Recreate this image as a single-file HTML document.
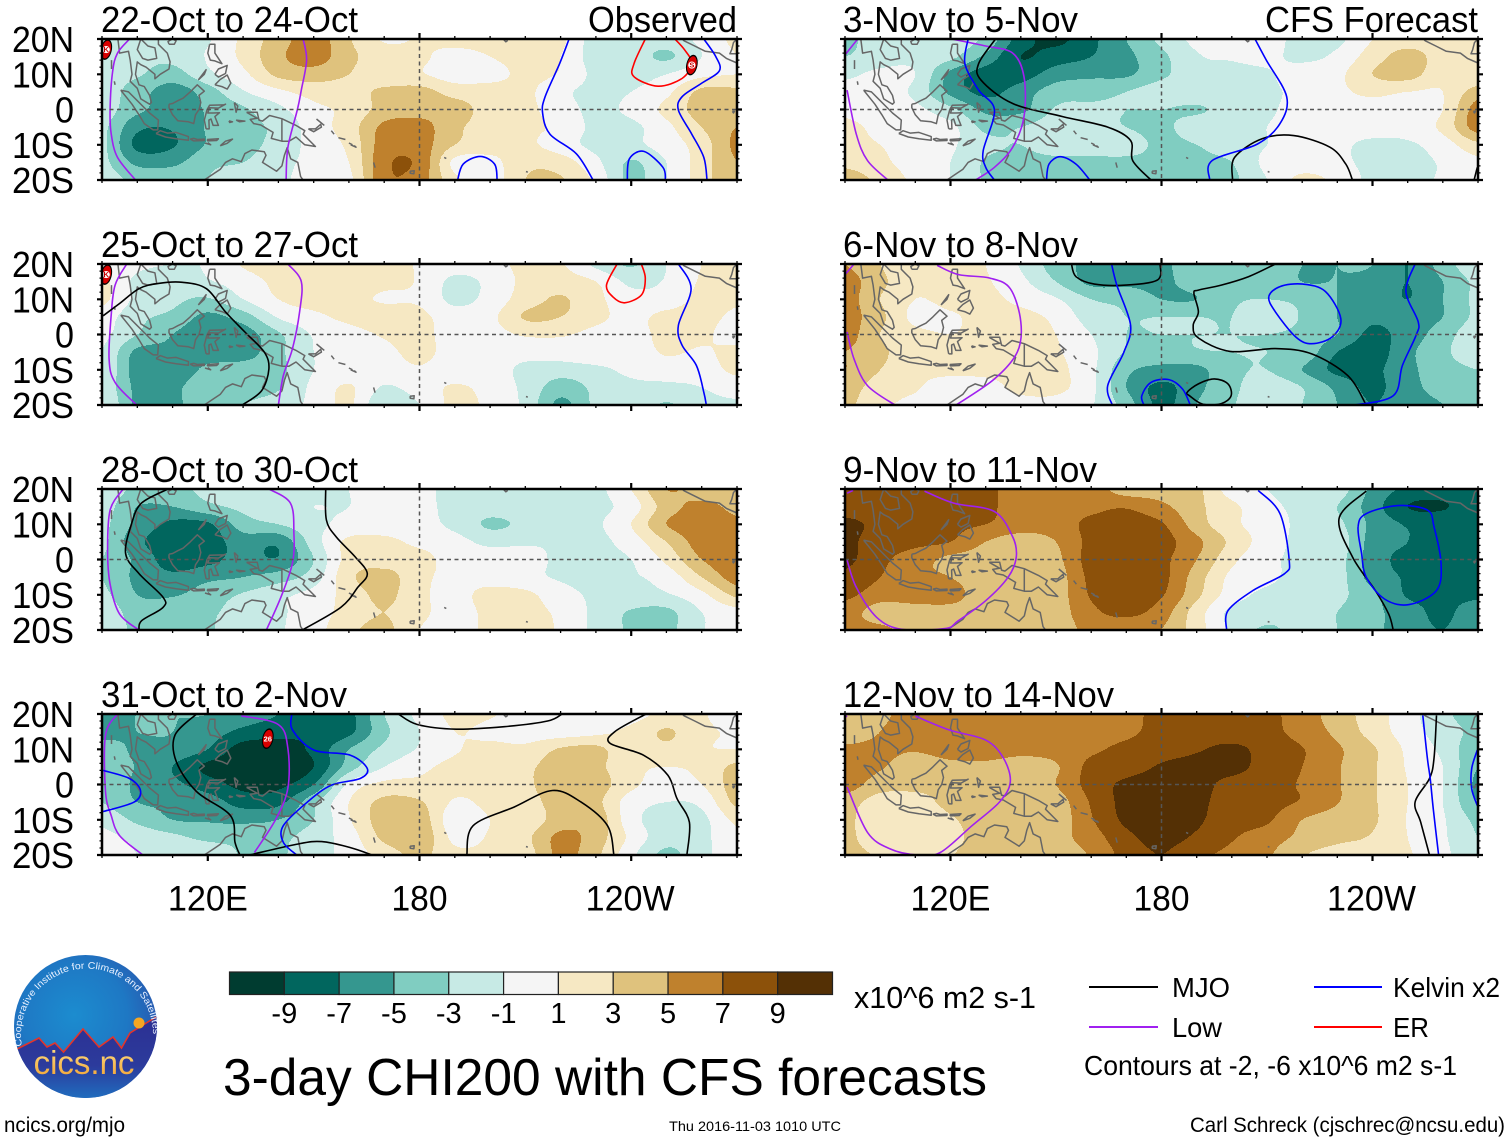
<!DOCTYPE html>
<html lang="en">
<head>
<meta charset="utf-8">
<title>3-day CHI200 with CFS forecasts</title>
<style>
html,body{margin:0;padding:0;background:#fff}
svg{display:block;font-family:"Liberation Sans",Arial,sans-serif}
</style>
</head>
<body>
<svg id="chart" xmlns="http://www.w3.org/2000/svg" width="1510" height="1142" viewBox="0 0 1510 1142">
  <defs>
    <radialGradient id="logoSky" cx="0.42" cy="0.42" r="0.62">
      <stop offset="0" stop-color="#1c8ccf"/>
      <stop offset="0.6" stop-color="#1e78c4"/>
      <stop offset="1" stop-color="#2a55ad"/>
    </radialGradient>
    <linearGradient id="logoLand" x1="0" y1="0" x2="0" y2="1">
      <stop offset="0" stop-color="#2c2f92"/>
      <stop offset="0.6" stop-color="#2c3b9c"/>
      <stop offset="1" stop-color="#1f6fc0"/>
    </linearGradient>
    <linearGradient id="logoText" x1="0" y1="0" x2="0" y2="1">
      <stop offset="0" stop-color="#ffe28a"/>
      <stop offset="1" stop-color="#f0a030"/>
    </linearGradient>
    <clipPath id="logoClip"><circle cx="85.5" cy="1026.5" r="71.5"/></clipPath>
    <path id="logoArc" d="M 22 1046 A 66 66 0 1 1 153 1034"/>
  </defs>

  <g id="panels"></g>

  <g font-size="36.5" fill="#000" lengthAdjust="spacingAndGlyphs">
    <text x="101" y="32" textLength="257" lengthAdjust="spacingAndGlyphs">22-Oct to 24-Oct</text>
    <text x="588" y="32" textLength="149" lengthAdjust="spacingAndGlyphs">Observed</text>
    <text x="101" y="257" textLength="257" lengthAdjust="spacingAndGlyphs">25-Oct to 27-Oct</text>
    <text x="101" y="482" textLength="257" lengthAdjust="spacingAndGlyphs">28-Oct to 30-Oct</text>
    <text x="101" y="707" textLength="246" lengthAdjust="spacingAndGlyphs">31-Oct to 2-Nov</text>
    <text x="843" y="32" textLength="235" lengthAdjust="spacingAndGlyphs">3-Nov to 5-Nov</text>
    <text x="1265" y="32" textLength="213" lengthAdjust="spacingAndGlyphs">CFS Forecast</text>
    <text x="843" y="257" textLength="235" lengthAdjust="spacingAndGlyphs">6-Nov to 8-Nov</text>
    <text x="843" y="482" textLength="254" lengthAdjust="spacingAndGlyphs">9-Nov to 11-Nov</text>
    <text x="843" y="707" textLength="271" lengthAdjust="spacingAndGlyphs">12-Nov to 14-Nov</text>
  </g>

  <g id="colorbar"></g>
  <text x="854" y="1008" font-size="30.5" textLength="182" lengthAdjust="spacingAndGlyphs">x10^6 m2 s-1</text>

  <text x="223" y="1095" font-size="52" textLength="764" lengthAdjust="spacingAndGlyphs">3-day CHI200 with CFS forecasts</text>

  <g font-size="28">
    <line x1="1089" y1="987" x2="1158" y2="987" stroke="#000" stroke-width="2"/>
    <text x="1172" y="997" textLength="58" lengthAdjust="spacingAndGlyphs">MJO</text>
    <line x1="1314" y1="987" x2="1382" y2="987" stroke="#0000ff" stroke-width="2"/>
    <text x="1393" y="997" textLength="107" lengthAdjust="spacingAndGlyphs">Kelvin x2</text>
    <line x1="1089" y1="1027" x2="1158" y2="1027" stroke="#a020f0" stroke-width="2"/>
    <text x="1172" y="1037" textLength="50" lengthAdjust="spacingAndGlyphs">Low</text>
    <line x1="1314" y1="1027" x2="1382" y2="1027" stroke="#ff0000" stroke-width="2"/>
    <text x="1393" y="1037" textLength="36" lengthAdjust="spacingAndGlyphs">ER</text>
    <text x="1084" y="1075" textLength="373" lengthAdjust="spacingAndGlyphs">Contours at -2, -6 x10^6 m2 s-1</text>
  </g>

  <g>
    <circle cx="85.5" cy="1026.5" r="71.5" fill="url(#logoSky)"/>
    <g clip-path="url(#logoClip)">
      <path d="M10 1052 L19 1048 L39 1038 L47 1047 L55 1043 L63.5 1052 L83 1029 L99 1047 L113 1037 L121.5 1048 L130 1033 L156 1017 L160 1015 L160 1100 L10 1100 Z" fill="url(#logoLand)"/>
      <path d="M10 1052 L19 1048 L39 1038 L47 1047 L55 1043 L63.5 1052 L83 1029 L99 1047 L113 1037 L121.5 1048 L130 1033 L156 1017" fill="none" stroke="#e2352b" stroke-width="1.6"/>
      <circle cx="139" cy="1023" r="5.5" fill="#f5a623"/>
    </g>
    <text font-size="9.5" fill="#e8f0ff"><textPath href="#logoArc" textLength="218" lengthAdjust="spacingAndGlyphs">Cooperative Institute for Climate and Satellites</textPath></text>
    <text x="84" y="1074" font-size="33" text-anchor="middle" fill="url(#logoText)">cics.nc</text>
  </g>

  <text x="4" y="1132" font-size="21" textLength="121" lengthAdjust="spacingAndGlyphs">ncics.org/mjo</text>
  <text x="669" y="1131" font-size="14" textLength="172" lengthAdjust="spacingAndGlyphs">Thu 2016-11-03 1010 UTC</text>
  <text x="1190" y="1132" font-size="21" textLength="315" lengthAdjust="spacingAndGlyphs">Carl Schreck (cjschrec@ncsu.edu)</text>
</svg>

<script>
// ---- axis data ----
const lons = [90,100,110,120,130,140,150,160,170,180,190,200,210,220,230,240,250,260,270];
const lats = [20,15,10,5,0,-5,-10,-15,-20];
const lonTicks = [120,180,240];
const lonTickLabels = ['120E','180','120W'];
const latTicks = [20,10,0,-10,-20];
const latTickLabels = ['20N','10N','0','10S','20S'];
const colorLevels = [-9,-7,-5,-3,-1,1,3,5,7,9];
const colorBands = ['#003c30','#01665e','#35978f','#80cdc1','#c7eae5','#f5f5f5','#f6e8c3','#dfc27d','#bf812d','#8c510a','#543005'];

// ---- CHI200 anomaly fields (rows = lats, columns = lons) ----
const chiOct22 = [
[-1.5,-2,-2,-1.2,1.5,4,6,3.2,.8,1.2,2,2.2,3,1.5,-2,-2,-2,-.5,1.5],
[-2,-2.5,-2.5,-.8,1.5,4.5,6,3.5,2,1.5,0,1,2,1,-2,-2,-3.3,-1,1],
[-2.3,-2.8,-3.8,-1.5,.5,3.5,4,3,1.5,1.2,0,.2,1.5,.8,-1.5,-1.8,-1,.5,1],
[-2,-4,-6,-4,-1.2,.5,1.8,2,3.5,3.8,2.2,2,1.5,-.5,-1.5,-1,.5,3.5,3.5],
[-2,-4.5,-5.8,-4.8,-3.3,-1.5,.5,1.5,3.8,4.2,4,2,1.5,0,-1.5,-.5,1.5,3.8,3.8],
[-2.5,-6.5,-6.8,-4.8,-3.6,-2.5,0,2,5.5,5.8,3.5,2,1.5,.5,-1.5,-1.5,.5,3,5],
[-2.5,-7.5,-7.2,-4.8,-3.8,-2.2,-.3,1.5,6,6,3,2,1.5,0,-1.5,-1.5,0,2,5.5],
[-2.5,-5.5,-5.5,-3.5,-3,-1.5,-.5,1,6.5,6.5,.5,.3,2.5,2,-.5,-3.2,-1,2,5],
[-2,-3.5,-3.5,-3,-1.5,-1.2,-.5,.5,6.5,6,1.5,0,3,3.2,.5,-3.5,-1,2,5]];
const chiOct25 = [
[1,-.5,-1,-.8,1.2,2,2,2.5,2,.8,0,.3,1.5,1.2,-1.5,-3.2,-1,1,1],
[1.5,-1.5,-2,-1.2,0,1.5,2,2,1.5,.8,-1.5,-.5,1.5,2,1,-1.5,-.8,1.2,1.2],
[1.5,-1.5,-2.5,-3.2,-1,1,1.8,1.5,.8,.7,-1.5,-.3,2,3.2,1.5,-.2,0,1.5,1.2],
[0,-2.5,-3.5,-5.5,-4,-.8,.5,1.5,2,1.5,0,.5,3.2,3,1.5,.5,1.5,1.5,.7],
[-.5,-3,-5,-6.5,-6,-3.3,-.8,.2,1.2,1.5,.2,.3,1.2,1.2,.5,.3,1.5,1.3,.3],
[-1,-5.5,-5.5,-6,-6,-3.5,-1,0,.5,1.5,.2,0,-.2,0,.5,0,1.2,.8,1.5],
[-1,-6,-6.5,-4.5,-4,-3.5,-1,0,0,.8,0,0,-1.5,-2,-1.5,-.5,0,0,1.5],
[-1.5,-5.5,-5.5,-3.5,-3.8,-3.2,-.5,1.2,-1.2,0,1.2,.3,-1.5,-4,-2.5,-1.5,-1.5,-1,-.3],
[-.8,-5.5,-5.5,-3.5,-3,-2,-.5,1.3,-2.8,-1,1.5,.5,-1.5,-5.5,-2.5,-1.5,-3.2,-1.5,-1.2]];
const chiOct28 = [
[-1.5,-3.5,-3.5,-2.5,-2,-1.5,-1.5,-1,0,-.5,-1.5,-1.5,-1.5,-1.5,-1.5,1,5,4,4],
[-2,-5,-5,-3.5,-2.5,-1.5,-1,-1,0,-.5,-1.5,-2,-1.6,-1.5,-1.5,0,4,5.5,4.5],
[-2.5,-5.5,-7.5,-7.3,-4,-3,-1.5,-.5,0,-.3,-1.5,-3.3,-2.5,-1.5,-1.3,1,5,6,5.5],
[-2.5,-6.5,-8,-8,-6,-6.5,-2,1.5,1.5,.5,-.3,-1.5,-1.3,-1.2,-1.5,0,3,6,6.5],
[-3,-5.5,-8,-7.6,-6.2,-6.8,-3,1.8,2,1.8,0,0,0,-1.5,-1.5,-1,1.5,5,6.5],
[-3,-5.5,-6.5,-5.5,-5,-4,-2,2.5,3.8,1.5,.5,0,-.5,-1.2,-1.5,-1.2,-.2,3,6],
[-2.5,-5,-5.2,-4,-2.8,-1.5,-.3,1.8,3.5,1.5,.3,1.8,1.5,-.3,-1.3,-1.5,-1.2,.5,3.5],
[-1.5,-4,-3.5,-3.3,-2.2,-1.3,0,1.8,3,1.5,.2,1.5,1.8,.5,-1.5,-3.2,-3.5,-1,.3],
[-1.2,-3.5,-3.3,-3.2,-1.8,-1.2,.2,2.5,3.5,1,.3,1.5,3,.5,-1.5,-3.3,-3.5,-1.2,.3]];
const chiOct31 = [
[-5,-5,-5,-5,-6,-7,-8,-7.6,-3,-.5,1.5,1.2,0,0,0,.2,1.5,1.2,-.5],
[-6,-5,-5,-6,-7.5,-8.2,-8.7,-7.5,-3.5,-1,1,.5,0,0,.5,1.5,3.2,1.5,.7],
[-3.5,-5.5,-5.5,-7,-10,-10,-8.5,-5,-2.5,-.8,.8,1.5,1.5,3.2,3.5,1.5,2.5,1.2,1],
[-3,-5.2,-7,-9.5,-10.5,-10.5,-9,-4,-1,.5,1.5,1.5,2.5,4,3.5,1.5,1,1.5,3.5],
[-3,-5.5,-6.5,-8,-9.6,-9.5,-7,-.5,1.5,1.5,1.5,1.5,2.5,4.5,4,1.5,0,1,4],
[-3,-5,-5.3,-6,-7.8,-7.6,-3.5,1,3.5,3.2,.8,1.5,2,4,3.5,0,-1,-.5,3.5],
[-1.5,-3.5,-5,-5.2,-5.5,-5,-3,.8,4,4.2,-.3,1,1.5,4,4.2,-.2,-2,-1.5,1.5],
[-.5,-1.5,-2.5,-3.5,-3.5,-3.5,-2,0,3.5,4.5,.5,1.2,2.5,5.5,4,.5,-2.2,-1.5,.5],
[-.3,-1,-1.5,-1.5,-3.2,-3.2,-2,-.2,1.8,3.5,1.5,1.5,2,5.5,3.5,-.5,-3.5,-1.5,0]];
const chiNov03 = [
[-3.5,-2,-1.5,-1.8,-3.5,-8,-9.5,-7.5,-5,-2.5,-.5,0,0,-1.8,-1.5,1,2,1.5,1],
[-3,-2,-1.5,-2.5,-5.5,-9,-8,-7,-5.5,-3.5,-1.2,-.8,-.5,-1.5,-.5,2,3.8,2,1.2],
[-1.5,-.5,-1,-5.5,-8,-8,-6,-5.5,-5.3,-3.5,-1.5,-1.5,-1.2,0,.5,3,3.8,1.5,1.2],
[0,0,-1.5,-5.5,-7.5,-6,-4,-3.5,-3,-1.8,-1.5,-1.5,-1.3,-.5,.5,1.5,1,1,4],
[.5,0,-.5,-2.5,-5.5,-5.5,-2.8,-2.8,-3,-3,-3.3,-2,-1.3,-.3,0,0,0,1,6],
[1.5,.5,0,-.5,-3.5,-3,-2,-2.5,-3,-3.5,-1.8,-1.5,-1,0,0,0,0,1.5,6],
[1.5,1,0,-.7,-2.5,-3,-2,-2,-2,-3.5,-3,-2,-1,0,-.5,-1.5,-1.3,0,2.5],
[2.5,1.5,0,-1,-3.2,-3.5,-3.5,-3.5,-3.5,-3.5,-3.5,-3,-.5,0,-.5,-1.5,-1.5,-.8,.5],
[4,2.5,.5,-1,-3.2,-3.5,-3.5,-3.5,-3.5,-4,-5,-3.5,-1,1.5,.5,-1.5,-1.5,-.8,0]];
const chiNov06 = [
[5,3,1.5,1.5,1,-1.2,-4,-5.5,-5.5,-5.5,-3.5,-3.5,-3.5,-5,-5,-5,-7,-4,-1.5],
[6,3.5,1.5,1.5,1.2,-.5,-3,-5.5,-5.5,-5.5,-4,-3.5,-3.5,-5,-5,-5.5,-7,-5,-2.5],
[6,3,1,1.5,1.5,.5,-.8,-3,-3.5,-5,-5,-3.3,-3,-3.5,-5,-5.5,-7,-5,-2.5],
[6,3.5,.5,.8,1.5,1.5,.5,-2,-3,-3,-3,-3,-1.5,-3.2,-5,-6.5,-6,-5,-2.5],
[6,3,1.5,1,1.5,1.5,1,-1,-3,-3,-3,-3,-3,-3.5,-5,-7.5,-6,-4,-1.5],
[5,3.5,1.5,1.5,1.5,1.5,1.2,-.5,-3.2,-4,-3.2,-3,-3,-3.5,-7,-8,-5.5,-3.5,-1.5],
[5,3,1.5,1.5,1.5,1.5,1.5,-.5,-4.5,-5.5,-5.5,-3.5,-3,-5,-7.5,-7.5,-5.5,-4,-3],
[4,2,1.2,0,.3,1.5,1.5,-.5,-5,-7.5,-5.5,-3.5,-1.8,-3,-5.5,-7.5,-5.5,-4.5,-3.5],
[3.5,1.5,.5,0,.2,.3,.3,-.8,-4,-7.5,-5,-3.2,-1.5,-3,-5,-7,-5.5,-5,-4]];
const chiNov09 = [
[7.5,8,8,8,7.5,6,6,6,4,4,3.5,0,-1,-1.5,-2,-5.5,-7.5,-8,-7.5],
[8,8,7.5,8,7.5,6,6,6.5,6.8,5.5,3.5,1.5,-.5,-1.5,-3,-6,-9,-9.2,-7.5],
[9.5,8.5,8,7.5,7,6,6,7.5,7.8,7.2,4,1.5,0,-1.5,-2.5,-5.5,-7.2,-7.5,-7.5],
[9.5,8,7.5,7,5,4,5,7.6,8.5,7.8,5.5,2.5,0,-1.5,-1.8,-5.8,-7,-7.5,-7.5],
[9.5,7.5,6,4.5,4,4,4.5,7.8,8,7.5,5,1.5,-.5,-1.5,-2.2,-6,-7.5,-7.5,-7.5],
[8.5,7,5.5,5,3.5,3.5,4,7.5,8,7.6,4,.5,-.5,-1.8,-2.2,-5.8,-7.2,-7.5,-7.5],
[7.5,6,6,6,3.5,3.5,4,7.2,8,7.2,3.5,0,-1.5,-2,-2.5,-4.5,-7.2,-7.5,-7.5],
[6,4,4,4,3.5,3.5,4,6.5,7.5,6,2,-1.5,-2,-2.5,-3,-4.5,-6,-7.5,-5.5],
[5.5,5.5,4,4,3.5,3.5,4,5.5,5.5,5,2,-1.5,-3.3,-2.2,-3,-4.5,-6,-7,-5.5]];
const chiNov12 = [
[3.5,4.5,6,6,6,6,6,6,6.2,7.8,7.8,7.8,7.5,6,4,2,-.2,-2.5,-4],
[3.5,5,6,6,6,6,6,6,6.5,7.8,7.8,7.8,7.6,6.2,4.5,2.2,0,-2,-3.5],
[5.5,5.5,5.2,6,6,5.6,5.8,6.6,7.6,8.3,8.8,9.5,8.2,7.1,5.3,3.3,.6,-1.5,-4.5],
[6,5.2,3.8,4.3,4.5,4,4.8,7.6,8.2,9.2,9.6,9.8,8,7,5.2,3.3,.8,-1,-5],
[6,4,3.5,3.5,4,3.5,5,7.8,9.4,9.8,9.8,8.2,7.6,6.8,5.2,3.3,1,-1,-5.5],
[4,2,2.2,3.5,3.5,3.5,4,7.2,9.6,9.8,9.5,8,7.6,6.8,5.1,3.3,1,-1,-5],
[3.5,1.5,1.2,2.8,3.5,3.5,3.8,6.8,9.4,9.8,9.3,7.8,7.3,5,4,3.3,.9,-.8,-3.5],
[3.5,1.8,1.6,2.6,3.5,3.5,4.3,6,8.5,9.6,8.7,7.2,6,4.5,3.5,2.8,1,-.7,-3],
[3.5,2.8,1.8,2.9,3.5,3.5,4,5.2,7.8,9,7.5,6.5,5.3,3.2,2.2,2,1.2,-.5,-2.5]];

// ---- contour lines, [lon, lat] vertices ----
const lowOct22 = [[[97.8,20],[94.4,16],[93,10.7],[92.3,0],[92.6,-6.9],[94.4,-13.6],[99.5,-20]],[[147,20],[148,14],[146.5,5.5],[145.4,0],[142.7,-10.7],[142.2,-20]]];
const mjoOct22 = [];
const kelvinOct22 = [[[222.4,20],[219.7,13],[215.6,3.6],[214.9,-1],[217,-7],[224.5,-12.6],[229.2,-20]],[[190.8,-20],[192.4,-15.5],[197.2,-13.3],[201.3,-15.5],[202,-20]],[[238.9,-20],[239.5,-14],[243.6,-11.9],[249,-16.4],[249.7,-20]],[[260.6,20],[264,15],[265,11],[259.9,7.4],[254.4,3.6],[253.4,-.2],[257.2,-7],[260.6,-13.6],[261.5,-20]]];
const erOct22 = [[[244,20],[240.8,13],[240.8,9.3],[247.6,6.6],[254.4,8.8],[257.2,13],[255.1,17],[252.4,20]]];

const lowOct25 = [[[97,20],[93.7,14],[92.6,5.5],[92,-7],[93.7,-13.6],[99.8,-20]],[[142.7,20],[146.5,15],[146,6.4],[144,-4],[141.4,-11.7],[140,-20]]];
const mjoOct25 = [[[90.3,5.3],[95,8.8],[100.5,13],[106,14.5],[112.8,14.8],[119.6,13],[125,6.4],[130.5,.7],[136,-5],[137.3,-9.8],[135.2,-16],[129.8,-20]]];
const kelvinOct25 = [[[253.4,20],[257,13],[253.4,2.6],[254.4,-3],[258.5,-8.8],[260.6,-16.4],[261.3,-20]]];
const erOct25 = [[[236,20],[233,14],[234.8,10.7],[238.1,9],[242.9,11.2],[244,16],[242.9,20]]];

const lowOct28 = [[[96,20],[92.3,14],[91.6,2.6],[92.3,-7],[95,-15.5],[100.5,-20]],[[137.3,20],[143.4,16],[144.4,7.4],[144,-1],[140.7,-10.7],[136.6,-20]]];
const mjoOct28 = [[[108.7,20],[101.2,16],[98.4,10.2],[96.7,1.7],[100.5,-4],[107.3,-10.7],[107.3,-13.6],[101.2,-17.4],[100.5,-20]],[[153.4,20],[153.6,11.2],[156.4,6.4],[161.8,.7],[165.2,-4],[162.5,-7.9],[157.7,-13.6],[146.8,-20]]];
const kelvinOct28 = [];
const erOct28 = [];

const lowOct31 = [[[94.4,20],[91,14],[91,-2],[92.6,-8.8],[95,-14.5],[101.6,-20]],[[129.5,19.5],[140,17],[142.7,10.2],[142.7,-1],[139.3,-9.8],[133.2,-19.3]]];
const mjoOct31 = [[[116.8,20],[110.7,14],[111.1,6.4],[116.8,-2],[126.4,-8.8],[127.7,-16.4],[129.1,-20]],[[174,20],[179.5,17],[190.4,15.7],[204,16.4],[216.3,18],[220.4,20]],[[244.2,20],[235.4,15],[234,11.7],[243.5,8.3],[250.4,2.6],[253,-4],[256.5,-10.7],[255.8,-20]],[[193.4,-20],[195.2,-11.7],[206.8,-6.4],[217.7,-1.7],[225.8,-5],[233.3,-11.7],[235.1,-20]],[[131.8,-20],[145.4,-16.9],[152.3,-16.2],[160.4,-17.9],[166.6,-20]]];
const kelvinOct31 = [[[90.3,4],[97.8,1.7],[100.9,-1.7],[99.1,-5],[90.3,-7.7]],[[143.8,20],[144,15.5],[150,9.8],[160.4,8.3],[165.2,4.5],[163.2,1.7],[155,-.2],[148.2,-5],[141.4,-11.7],[141.4,-16.4],[145.2,-20]]];
const erOct31 = [];

const lowNov03 = [[[93.6,20],[90,15.5]],[[90.6,5.5],[93.2,-7],[96.4,-14.5],[102.2,-20]],[[120.3,20],[130,18],[137.7,16],[140.9,9.3],[140.9,-2],[137.7,-10.7],[132.5,-16.4],[127.1,-20]]];
const mjoNov03 = [[[132.8,20],[128,13],[128.7,8.3],[137.7,1.7],[151.9,-2],[164.7,-5],[171.2,-8.8],[171.8,-14.5],[177,-20]],[[200.2,-20],[200.8,-13.6],[208.6,-8.3],[217.6,-7.4],[227.9,-10.7],[232.4,-15.5],[234.3,-20]],[[268.9,-20],[269.8,-16.4]]];
const kelvinNov03 = [[[125,20],[124.1,13],[128,5.5],[132.5,-.2],[129.3,-11.7],[130,-16.4],[132.5,-20]],[[147.3,-20],[148,-15.5],[151.2,-13.4],[155.7,-15.5],[159.6,-20]],[[206.6,20],[209.8,14],[215.6,3.6],[213.7,-4],[207.3,-9.8],[194.4,-14.5],[193.7,-20]]];
const erNov03 = [];

const lowNov06 = [[[92.6,20],[90,17]],[[90.6,.7],[92.6,-7],[96.4,-14.5],[104.2,-20]],[[116.2,19.6],[122.3,17],[131.2,16],[137,13],[140,3.6],[139,-5],[132.5,-12.6],[121.6,-20]]];
const mjoNov06 = [[[154.4,20],[155.7,16.4],[160.9,14.3],[169.9,14],[178.9,15.5],[179.6,20]],[[212.4,20],[204.7,16.4],[197,14],[190.5,12.6],[189.2,11.7],[190.5,6.4],[189,2.6],[190.5,-1],[199.5,-4.8],[212.4,-4],[222.7,-5.5],[233,-11.7],[238.2,-20]],[[187.3,-16.4],[190.5,-14],[195,-12.6],[198.9,-14],[199.8,-17.4],[197,-19.6],[191.8,-19.8],[188,-17.4],[187.3,-16.4]]];
const kelvinNov06 = [[[165.8,20],[167.3,14],[171.2,2.6],[169.3,-5],[164.7,-14.5],[166,-20]],[[175,-20],[174.4,-17.4],[177,-13.6],[182.1,-12.8],[186,-15.5],[188.2,-20]],[[210.5,10.7],[213.7,13.6],[220.2,14.3],[226.6,12.2],[231,4.5],[228.5,-.7],[222.7,-2.6],[218.2,-.7],[212.4,6.4],[210.5,10.7]],[[252.1,20],[249.5,12.2],[253,3.6],[252.4,-.2],[248.5,-8.8],[245.9,-17.4],[235,-20]]];
const erNov06 = [];

const lowNov09 = [[[92.3,19.6],[90.6,18.8]],[[112.6,19.4],[120.9,16],[132.5,13.6],[137.7,6.4],[138.7,.7],[136.4,-5],[130,-11.7],[122.2,-17.4],[118.4,-19.6],[106.1,-19.8],[99,-16.4],[93.2,-7.9],[90.6,-.2]]];
const mjoNov09 = [[[238.2,19.4],[230.5,11.7],[234.3,.7],[240.8,-8.8],[244.6,-15.5],[245.9,-20]]];
const kelvinNov09 = [[[207.5,19.6],[213.7,13],[216.3,-.2],[215,-4],[206,-8.8],[198.9,-14.5],[198.5,-20]],[[235.9,9.3],[238.2,13],[247.2,15.3],[255.6,14],[257.5,9.3],[259.5,-1.2],[258.2,-8.8],[250.4,-12.8],[243.4,-11.2],[238.2,-5],[236.9,1.7],[235.9,9.3]]];
const erNov09 = [];

const lowNov12 = [[[90.6,19.5],[90,19]],[[110,19.4],[119.6,15.5],[130,12.6],[135.1,7.4],[137,.7],[133.9,-5],[126.1,-11.7],[117.1,-19.3],[110.6,-20],[102.9,-18.3],[96.4,-13.6],[90.6,-.7]]];
const mjoNov12 = [[[258.2,19.6],[257.5,7.4],[256.2,1.7],[252.1,-5],[253.7,-10.7],[256.2,-20]]];
const kelvinNov12 = [[[254.3,19.6],[255.6,7.4],[256.4,1.7],[257.3,-7],[258.8,-20]],[[269.8,9.8],[268.2,4.5],[268.2,-1.2],[269.8,-6]]];
const erNov12 = [];

// ---- tropical cyclone markers: lon, lat ----
const stormLons = [[91.2,257.2],[91.2],[],[137],[],[],[],[]];
const stormLats = [[17,12.6],[17],[],[13],[],[],[],[]];
const stormLabels = [['K','S'],['K'],[],['26'],[],[],[],[]];

// ---- geography (lon, lat) ----
const coastlines = [
[[94.5,20],[95,16],[97.5,16.5],[98,14],[98.5,10],[98,8],[100,6],[101,3],[103.5,1.5],[104,2],[103.5,4],[102,6.5],[100.5,7],[99.5,10],[100,13.5],[101,12.7],[102.5,12],[105,10],[105,8.7],[106.5,10],[109,11.5],[109.3,13.5],[108.5,16],[106,18.5],[106,20]],
[[109,18.5],[110.5,18.5],[111,19.5],[110,20],[108.7,19.3],[109,18.5]],
[[101,20],[100,17],[101.5,14.5],[103,14],[105.5,14.5],[105,17.5],[103,18],[101,20]],
[[95.3,5.5],[97.5,5],[100,2.5],[103.5,-1],[106,-3],[105.8,-5.8],[104.5,-5.8],[102,-4],[100.5,-1.5],[98.5,1.5],[95.3,5.5]],
[[105.3,-6.8],[106.5,-6],[108.5,-6.7],[111,-6.5],[114.5,-7.7],[114.5,-8.7],[111,-8.3],[108,-7.8],[105.3,-6.8]],
[[115,-8.4],[116,-8.2],[117,-8.5],[119,-8.4],[119,-8.8],[116,-8.9],[115,-8.4]],
[[119.8,-8.5],[123,-8.3],[122.5,-8.8],[120,-8.9],[119.8,-8.5]],
[[123.5,-10.3],[125,-9],[127,-8.4],[125.5,-9.6],[123.5,-10.3]],
[[119.2,-9.5],[120.8,-10],[120,-9.4]],
[[109,1.5],[110,1.7],[111.5,2.5],[113,3.2],[115,5],[117,7],[119,5.2],[117.5,4],[118,2],[117.5,0],[116.5,-1.5],[116,-4],[114.5,-3.5],[111.5,-3.2],[110,-1.5],[109,.5],[109,1.5]],
[[119.5,-5.5],[119,-3],[119.8,0],[120.5,1.2],[124.5,1.3],[125,1.5],[123,.4],[120.5,.5],[120,-1],[121.5,-1],[123.3,-.9],[122,-2],[123,-4.5],[121.5,-4.5],[120.9,-2.7],[120.3,-3],[120.4,-5.5],[119.5,-5.5]],
[[120.5,18.5],[122,18.5],[122,16],[124,13],[122,13.8],[120.7,14],[120,16],[120.5,18.5]],
[[122,7],[123.5,8.5],[125.5,9.8],[126.5,7.5],[125.5,5.8],[124,6.5],[122,7]],
[[122,10],[123,11.5],[125.5,12.5],[125,10.2],[123,9.2],[122,10]],
[[117.3,8.4],[119.5,11.3],[119,10],[117.3,8.4]],
[[127.5,2],[128.5,1],[128,-.8],[127.5,2]],
[[128,-3],[130.5,-3.3],[129,-3.5],[128,-3]],
[[126,-3.2],[127,-3.5],[126.2,-3.7],[126,-3.2]],
[[131,-.8],[134,-.8],[134.5,-3],[135.5,-3.3],[137.5,-1.7],[141,-2.6],[145,-4.5],[147.5,-6],[147,-7],[150.5,-10.5],[147.5,-10],[145,-7.8],[143,-9],[141,-9],[138,-8.2],[138.5,-6.5],[135,-4.4],[133,-4],[132,-2.8],[134,-2.5],[131,-.8]],
[[141,-2.6],[141,-9]],
[[148.5,-5.5],[150.5,-5.5],[152,-4.2],[152.2,-5],[150,-6.3],[148.5,-5.5]],
[[150.8,-2.7],[153,-4.5]],
[[155,-6],[155.8,-7]],[[157,-8],[159,-8.5]],[[160,-9.5],[161,-10]],[[160.5,-10],[162,-10.7],[161.5,-10.2]],
[[167,-15],[167.4,-16.5]],[[187,-13.6],[187.6,-13.9]],[[210.2,-17.6],[210.7,-17.8]],
[[177.3,-17.5],[178.5,-17.4],[178.4,-18.2],[177.4,-18.1],[177.3,-17.5]],
[[119,-20],[122,-18],[123.5,-17],[125,-15],[127,-14],[129.5,-14.8],[130.5,-12.5],[132.5,-11.5],[136,-12],[136.5,-13],[135.5,-15],[139.5,-17.5],[141,-16],[141.7,-13],[142.5,-10.8],[143.5,-14],[145.5,-15],[146.3,-19],[147,-20]],
[[254.5,20],[255,19.5],[258,18],[261,16.5],[265,16],[267,14.5],[270,13.2]],
[[270,20],[269,19],[268.5,17],[268,15.8],[270,15.8]],
[[268.7,-.5],[269.3,-.5],[269,-1],[268.7,-.5]],
[[203.9,19.8],[204.5,19.2],[205,19.6]],
[[92.7,14],[92.7,11.5]],[[93.5,8],[93.7,7]]
];

// ---- panel layout ----
const panelLefts = [102,102,102,102,845,845,845,845];
const panelWidths = [635,635,635,635,633,633,633,633];
const panelTops = [39,264,489,714,39,264,489,714];
const panelHeight = 141;
const panelNames = ['oct22','oct25','oct28','oct31','nov03','nov06','nov09','nov12'];
const panelFields = [chiOct22,chiOct25,chiOct28,chiOct31,chiNov03,chiNov06,chiNov09,chiNov12];
const panelLow = [lowOct22,lowOct25,lowOct28,lowOct31,lowNov03,lowNov06,lowNov09,lowNov12];
const panelMjo = [mjoOct22,mjoOct25,mjoOct28,mjoOct31,mjoNov03,mjoNov06,mjoNov09,mjoNov12];
const panelKelvin = [kelvinOct22,kelvinOct25,kelvinOct28,kelvinOct31,kelvinNov03,kelvinNov06,kelvinNov09,kelvinNov12];
const panelEr = [erOct22,erOct25,erOct28,erOct31,erNov03,erNov06,erNov09,erNov12];
const lonLabelWidths = [80,56,89];

const NS = 'http://www.w3.org/2000/svg';
function mk(tag, attrs, parent){
  const e = document.createElementNS(NS, tag);
  for (const k in attrs) e.setAttribute(k, attrs[k]);
  if (parent) parent.appendChild(e);
  return e;
}
function catmull(p0,p1,p2,p3,t){
  return 0.5*((2*p1)+(-p0+p2)*t+(2*p0-5*p1+4*p2-p3)*t*t+(-p0+3*p1-3*p2+p3)*t*t*t);
}
function bandIndex(v){
  let i = 0;
  while (i < colorLevels.length && v >= colorLevels[i]) i++;
  return i;
}
function smoothPath(points, xs, ys){
  const p = points.map(q => [xs(q[0]), ys(q[1])]);
  if (p.length < 3) return 'M' + p.map(q => q[0].toFixed(1) + ' ' + q[1].toFixed(1)).join('L');
  const closed = p[0][0] === p[p.length-1][0] && p[0][1] === p[p.length-1][1];
  const n = p.length;
  const at = i => closed ? p[((i % (n-1)) + (n-1)) % (n-1)] : p[Math.max(0, Math.min(n-1, i))];
  let d = 'M' + p[0][0].toFixed(1) + ' ' + p[0][1].toFixed(1);
  for (let i = 0; i < n-1; i++){
    const a = at(i-1), b = at(i), c = at(i+1), e = at(i+2);
    d += 'C' + (b[0]+(c[0]-a[0])/6).toFixed(1) + ' ' + (b[1]+(c[1]-a[1])/6).toFixed(1) + ' '
       + (c[0]-(e[0]-b[0])/6).toFixed(1) + ' ' + (c[1]-(e[1]-b[1])/6).toFixed(1) + ' '
       + c[0].toFixed(1) + ' ' + c[1].toFixed(1);
  }
  return d;
}

const root = document.getElementById('panels');
const svgDefs = document.querySelector('#chart defs');

panelFields.forEach(function(field, pi){
  const left = panelLefts[pi], width = panelWidths[pi], top = panelTops[pi], height = panelHeight;
  const lonMin = lons[0], lonMax = lons[lons.length-1], latMax = lats[0], latMin = lats[lats.length-1];
  const xs = lon => left + (lon - lonMin) / (lonMax - lonMin) * width;
  const ys = lat => top + (latMax - lat) / (latMax - latMin) * height;

  const g = mk('g', {}, root);
  
  

  const clipId = 'clip' + pi;
  const clip = mk('clipPath', {id: clipId}, svgDefs);
  mk('rect', {x: left, y: top, width: width, height: height}, clip);

  // filled bands: evaluate the field on a pixel lattice
  const paths = colorBands.map(() => []);
  const nc = lons.length, nr = lats.length;
  for (let py = 0; py < height; py++){
    const latPos = (py + 0.5) / height * (nr - 1);
    const r = Math.min(nr - 2, Math.floor(latPos)), tr = latPos - r;
    const col = [];
    for (let c = 0; c < nc; c++){
      col.push(catmull(field[Math.max(0, r-1)][c], field[r][c], field[r+1][c], field[Math.min(nr-1, r+2)][c], tr));
    }
    let runStart = 0, runBand = -1;
    for (let px = 0; px <= width; px++){
      let b = -2;
      if (px < width){
        const lonPos = (px + 0.5) / width * (nc - 1);
        const c = Math.min(nc - 2, Math.floor(lonPos)), tc = lonPos - c;
        b = bandIndex(catmull(col[Math.max(0, c-1)], col[c], col[c+1], col[Math.min(nc-1, c+2)], tc));
      }
      if (b !== runBand){
        if (runBand >= 0) paths[runBand].push('M' + (left + runStart) + ' ' + (top + py) + 'h' + (px - runStart) + 'v1h-' + (px - runStart) + 'z');
        runStart = px; runBand = b;
      }
    }
  }
  const fills = mk('g', {'shape-rendering': 'crispEdges'}, g);
  
  
  paths.forEach(function(list, bi){
    if (!list.length) return;
    const band = mk('path', {d: list.join(''), fill: colorBands[bi]}, fills);
    
    
  });

  const clipped = mk('g', {'clip-path': 'url(#' + clipId + ')', fill: 'none'}, g);
  
  

  // coastlines
  const coastD = coastlines.map(line => 'M' + line.map(q => xs(q[0]).toFixed(1) + ' ' + ys(q[1]).toFixed(1)).join('L')).join('');
  const coast = mk('path', {d: coastD, stroke: '#666', 'stroke-width': 1.5, 'stroke-linejoin': 'round'}, clipped);
  
  

  // contour lines
  const groups = [['low-contour', panelLow[pi], '#a020f0'], ['mjo-contour', panelMjo[pi], '#000'], ['kelvin-contour', panelKelvin[pi], '#0000ff'], ['er-contour', panelEr[pi], '#ff0000']];
  groups.forEach(function(gr){
    gr[1].forEach(function(line){
      const c = mk('path', {d: smoothPath(line, xs, ys), stroke: gr[2], 'stroke-width': 1.6}, clipped);
      
      
    });
  });

  // reference lines
  const eq = mk('line', {x1: left, x2: left + width, y1: ys(0), y2: ys(0), stroke: '#555', 'stroke-width': 1.5, 'stroke-dasharray': '4 3.5'}, clipped);
  
  
  const dl = mk('line', {x1: xs(180), x2: xs(180), y1: top, y2: top + height, stroke: '#555', 'stroke-width': 1.5, 'stroke-dasharray': '4 3.5'}, clipped);
  
  

  // storms
  stormLons[pi].forEach(function(lon, si){
    const sx = xs(lon), sy = ys(stormLats[pi][si]);
    const label = stormLabels[pi][si];
    const s = mk('g', {}, clipped);
    
    
    mk('ellipse', {cx: sx, cy: sy, rx: 5.6, ry: 10.5, fill: '#000', transform: 'rotate(12 ' + sx + ' ' + sy + ')'}, s);
    mk('ellipse', {cx: sx, cy: sy, rx: 4.6, ry: 9, fill: '#d80000', transform: 'rotate(12 ' + sx + ' ' + sy + ')'}, s);
    if (label.length === 1) mk('circle', {cx: sx, cy: sy, r: 3.6, fill: '#fff'}, s);
    const st = mk('text', {x: sx, y: sy + 2.6, 'font-size': 7.5, 'font-weight': 'bold', 'text-anchor': 'middle', fill: label.length > 1 ? '#fff' : '#c00'}, s);
    st.textContent = label;
  });

  // frame + ticks
  const axes = mk('g', {stroke: '#000', fill: 'none'}, g);
  
  
  mk('rect', {x: left, y: top, width: width, height: height, 'stroke-width': 2.5}, axes);
  let minor = '', major = '';
  for (let lon = lonMin; lon <= lonMax; lon += 10){
    const x = xs(lon).toFixed(1);
    if (lonTicks.indexOf(lon) >= 0) major += 'M' + x + ' ' + (top - 6) + 'v6M' + x + ' ' + (top + height) + 'v6';
    else minor += 'M' + x + ' ' + (top - 3) + 'v3M' + x + ' ' + (top + height) + 'v3';
  }
  for (let lat = latMin; lat <= latMax; lat += 2){
    const y = ys(lat).toFixed(1);
    if (lat % 10 === 0) major += 'M' + (left - 5) + ' ' + y + 'h5M' + (left + width) + ' ' + y + 'h5';
    else minor += 'M' + (left - 2.5) + ' ' + y + 'h2.5M' + (left + width) + ' ' + y + 'h2.5';
  }
  mk('path', {d: minor, 'stroke-width': 1.3}, axes);
  mk('path', {d: major, 'stroke-width': 2.2}, axes);

  // tick labels (left column lat, bottom row lon)
  if (left === panelLefts[0]){
    latTicks.forEach(function(lat, i){
      const label = latTickLabels[i];
      const w = label.length > 1 ? 62 : 19;
      const t = mk('text', {x: 74 - w, y: ys(lat) + 13, 'font-size': 36.5, fill: '#000', textLength: w, lengthAdjust: 'spacingAndGlyphs'}, g);
      
      
      t.textContent = label;
    });
  }
  if (pi === 3 || pi === 7){
    lonTicks.forEach(function(lon, i){
      const w = lonLabelWidths[i];
      const t = mk('text', {x: xs(lon) - w / 2 - (i === 2 ? 1 : 0), y: top + height + 55.5, 'font-size': 35, fill: '#000', textLength: w, lengthAdjust: 'spacingAndGlyphs'}, g);
      
      
      t.textContent = lonTickLabels[i];
    });
  }
});

// colorbar
const cb = document.getElementById('colorbar');
const cbLeft = 229.5, cbWidth = 603, cbTop = 972, cbHeight = 22.5;
const cbStep = cbWidth / colorBands.length;
colorBands.forEach(function(col, i){
  const r = mk('rect', {x: cbLeft + i * cbStep, y: cbTop, width: cbStep, height: cbHeight, fill: col, stroke: '#222', 'stroke-width': 1.2}, cb);
  
  
});
colorLevels.forEach(function(lv, i){
  const t = mk('text', {x: cbLeft + (i + 1) * cbStep, y: 1023, 'font-size': 29, 'text-anchor': 'middle', fill: '#000'}, cb);
  
  
  t.textContent = String(lv);
});
</script>
</body>
</html>
